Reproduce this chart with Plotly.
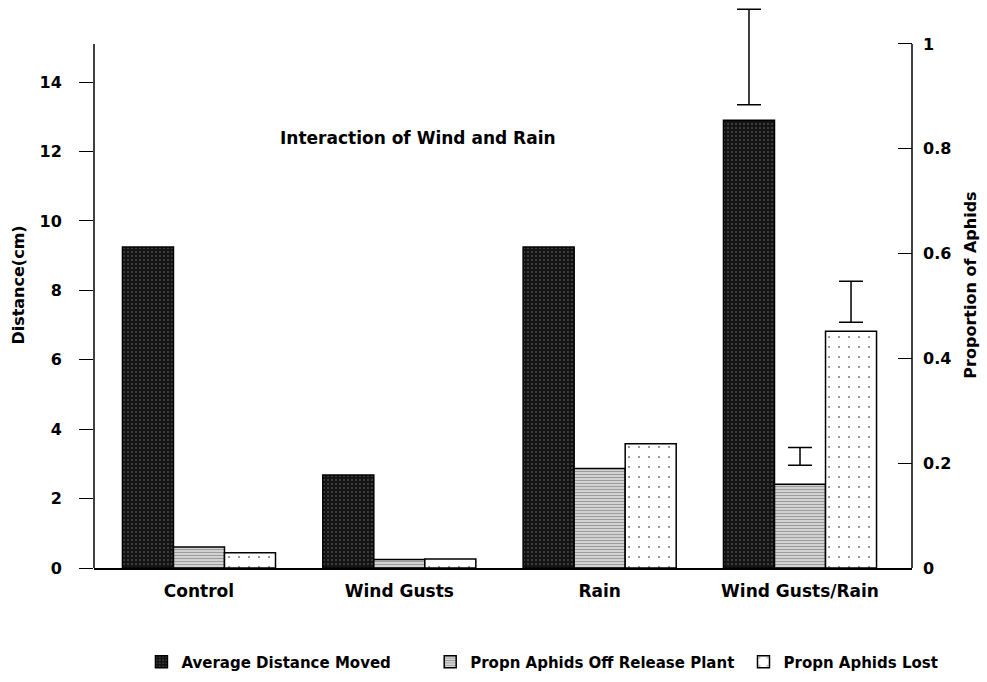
import plotly.graph_objects as go

categories = ["Control", "Wind Gusts", "Rain", "Wind Gusts/Rain"]
avg_distance = [9.25, 2.68, 9.25, 12.9]            # cm, left axis
propn_off_plant = [0.040, 0.016, 0.190, 0.160]     # proportion, right axis
propn_lost = [0.029, 0.017, 0.237, 0.452]          # proportion, right axis

# error bars (drawn as separate caps, only for Wind Gusts/Rain)
dist_err_low = [None, None, None, 13.35]
dist_err_high = [None, None, None, 16.1]
off_err_low = [None, None, None, 0.196]
off_err_high = [None, None, None, 0.230]
lost_err_low = [None, None, None, 0.469]
lost_err_high = [None, None, None, 0.547]

left_ticks = [0, 2, 4, 6, 8, 10, 12, 14]
right_ticks = [0, 0.2, 0.4, 0.6, 0.8, 1]
right_tick_text = ["0", "0.2", "0.4", "0.6", "0.8", "1"]

FONT = "DejaVu Sans, Verdana, sans-serif"

LEFT_AXIS_TOP = 15.1        # where the drawn left axis line ends (cm)
RIGHT_AXIS_TOP = 1.0        # where the drawn right axis line ends
VIEW_TOP = 16.31            # visible top of the plotting area (cm) so the error bar fits
SCALE = RIGHT_AXIS_TOP / LEFT_AXIS_TOP


def mid(lo, hi):
    return [None if a is None else (a + b) / 2 for a, b in zip(lo, hi)]


def half(lo, hi):
    return [None if a is None else (b - a) / 2 for a, b in zip(lo, hi)]


def zero_like(lo):
    return [None if a is None else 0 for a in lo]


fig = go.Figure()

outline = dict(color="black", width=1.5)

fig.add_trace(go.Bar(
    name="Average Distance Moved", x=categories, y=avg_distance, yaxis="y",
    offsetgroup="a", legend="legend",
    marker=dict(color="#151515", line=outline,
                pattern=dict(shape=".", bgcolor="#141414", fgcolor="#808080",
                             size=4, solidity=0.2, fillmode="overlay")),
))
fig.add_trace(go.Bar(
    name="Propn Aphids Off Release Plant", x=categories, y=propn_off_plant, yaxis="y2",
    offsetgroup="b", legend="legend2",
    marker=dict(color="#d4d4d4", line=outline,
                pattern=dict(shape="-", bgcolor="#d8d8d8", fgcolor="#606060",
                             size=3, solidity=0.4, fillmode="overlay")),
))
fig.add_trace(go.Bar(
    name="Propn Aphids Lost", x=categories, y=propn_lost, yaxis="y2",
    offsetgroup="c", legend="legend3",
    marker=dict(color="white", line=outline,
                pattern=dict(shape=".", bgcolor="white", fgcolor="black",
                             size=10, solidity=0.035, fillmode="overlay")),
))

err_style = dict(type="data", symmetric=True, color="black", thickness=1.5, width=12)
invisible = dict(color="rgba(0,0,0,0)", line=dict(width=0))

fig.add_trace(go.Bar(
    x=categories, y=zero_like(dist_err_low), base=mid(dist_err_low, dist_err_high),
    yaxis="y", offsetgroup="a", showlegend=False, hoverinfo="skip",
    marker=invisible, cliponaxis=False,
    error_y=dict(array=half(dist_err_low, dist_err_high), **err_style),
))
fig.add_trace(go.Bar(
    x=categories, y=zero_like(off_err_low), base=mid(off_err_low, off_err_high),
    yaxis="y2", offsetgroup="b", showlegend=False, hoverinfo="skip",
    marker=invisible, cliponaxis=False,
    error_y=dict(array=half(off_err_low, off_err_high), **err_style),
))
fig.add_trace(go.Bar(
    x=categories, y=zero_like(lost_err_low), base=mid(lost_err_low, lost_err_high),
    yaxis="y2", offsetgroup="c", showlegend=False, hoverinfo="skip",
    marker=invisible, cliponaxis=False,
    error_y=dict(array=half(lost_err_low, lost_err_high), **err_style),
))

tick_font = dict(family=FONT, size=16, color="black", weight="bold")
title_font = dict(family=FONT, size=16, color="black", weight="bold")
legend_font = dict(family=FONT, size=15, color="black", weight="bold")


def legend_at(x):
    return dict(orientation="h", x=x, xanchor="left", y=-0.166, yanchor="middle",
                font=legend_font, bgcolor="rgba(0,0,0,0)")


fig.update_layout(
    width=987, height=682,
    margin=dict(l=94, r=75, t=2, b=114),
    paper_bgcolor="white", plot_bgcolor="white",
    barmode="group", bargap=0.236, bargroupgap=0,
    font=dict(family=FONT, color="black"),
    xaxis=dict(
        type="category", range=[-0.524, 3.559], automargin=False,
        showline=True, linecolor="black", linewidth=1.5,
        ticks="", showgrid=False, zeroline=False,
        tickfont=dict(family=FONT, size=17, color="black", weight="bold"),
        ticklabelstandoff=7,
    ),
    yaxis=dict(
        range=[0, VIEW_TOP], tickvals=left_ticks, automargin=False,
        showline=False,
        ticks="outside", ticklen=14, tickwidth=1, tickcolor="black",
        showgrid=False, zeroline=False,
        tickfont=tick_font, ticklabelstandoff=14,
        title=dict(text="Distance(cm)", font=title_font, standoff=10),
    ),
    yaxis2=dict(
        overlaying="y", side="right", automargin=False,
        range=[0, VIEW_TOP * SCALE], tickvals=right_ticks, ticktext=right_tick_text,
        showline=False,
        ticks="inside", ticklen=14, tickwidth=1, tickcolor="black",
        showgrid=False, zeroline=False,
        tickfont=tick_font, ticklabelstandoff=10,
        title=dict(text="Proportion of Aphids", font=title_font, standoff=14),
    ),
    legend=legend_at(0.058),
    legend2=legend_at(0.411),
    legend3=legend_at(0.794),
    shapes=[
        dict(type="line", xref="paper", yref="y", x0=0, x1=0, y0=0, y1=LEFT_AXIS_TOP,
             line=dict(color="black", width=1.5)),
        dict(type="line", xref="paper", yref="y2", x0=1, x1=1, y0=0, y1=RIGHT_AXIS_TOP,
             line=dict(color="black", width=1.5)),
    ],
    annotations=[dict(
        text="Interaction of Wind and Rain", xref="paper", yref="paper",
        x=0.225, y=0.76, xanchor="left", yanchor="middle", showarrow=False,
        font=dict(family=FONT, size=17, color="black", weight="bold"),
    )],
)

fig.write_html("out.html")
